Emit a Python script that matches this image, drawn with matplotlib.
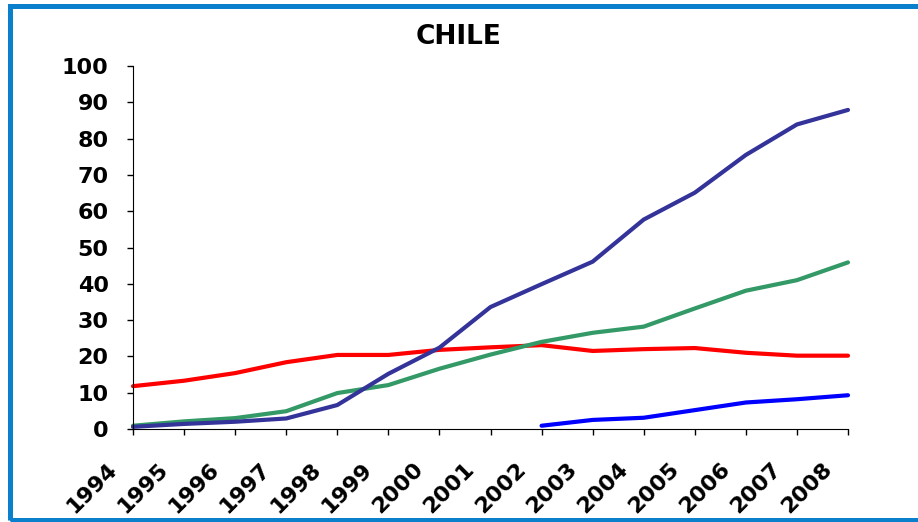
import numpy as np
import matplotlib
matplotlib.use('Agg')
import matplotlib.pyplot as plt
import matplotlib.transforms as mtransforms
from matplotlib.patches import Rectangle

# datos
anios = list(range(1994, 2009))
serie_azul_osc = [0.6, 1.4, 2.0, 2.9, 6.6, 15.2, 22.4, 33.6, 39.9, 46.1, 57.7, 65.1, 75.5, 83.9, 87.9]
serie_verde = [0.9, 2.1, 3.0, 4.9, 9.9, 12.1, 16.6, 20.5, 24.0, 26.5, 28.2, 33.2, 38.1, 41.0, 45.9]
serie_roja = [11.8, 13.3, 15.4, 18.4, 20.4, 20.4, 21.8, 22.5, 23.1, 21.5, 22.0, 22.3, 21.0, 20.2, 20.2]
anios_azul = list(range(2002, 2009))
serie_azul = [0.9, 2.5, 3.1, 5.2, 7.3, 8.2, 9.3]
ticks_y = list(range(0, 101, 10))

W, H = 918, 522
fig = plt.figure(figsize=(W / 100, H / 100), dpi=100)
ax = fig.add_axes([133 / W, 1 - 429 / H, (848 - 133) / W, (429 - 66) / H])

lw = 3.0
ax.plot(anios, serie_roja, color='#ff0000', lw=lw, solid_capstyle='round', clip_on=False)
ax.plot(anios, serie_verde, color='#339966', lw=lw, solid_capstyle='round', clip_on=False)
ax.plot(anios, serie_azul_osc, color='#333399', lw=lw, solid_capstyle='round', clip_on=False)
ax.plot(anios_azul, serie_azul, color='#0000ff', lw=lw, solid_capstyle='round', clip_on=False)

ax.set_xlim(1994, 2008)
ax.set_ylim(0, 100)
ax.spines['top'].set_visible(False)
ax.spines['right'].set_visible(False)
ax.set_xticks(anios)
ax.set_yticks(ticks_y)
ax.tick_params(direction='out', length=4.5, width=1)
ax.tick_params(axis='y', pad=13)
ax.tick_params(axis='x', pad=17)
ax.set_yticklabels([str(v) for v in ticks_y], fontsize=16, fontweight='bold')
ax.set_xticklabels([str(a) for a in anios], fontsize=16, fontweight='bold',
                   rotation=45, ha='right', va='top')

# correr las etiquetas del eje x un poco a la izquierda
desplaz = mtransforms.ScaledTranslation(-12 / 100, 0, fig.dpi_scale_trans)
for lab in ax.get_xticklabels():
    lab.set_transform(lab.get_transform() + desplaz)

fig.text(459 / W, 1 - 37 / H, 'CHILE', ha='center', va='center',
         fontsize=19, fontweight='bold')

# marco azul
fig.patches.append(Rectangle((9.5 / W, 2 / H), 1.0, (516 - 2) / H, fill=False,
                             edgecolor='#0A7FCC', lw=3.6, transform=fig.transFigure))

fig.savefig('out.png', dpi=100)
